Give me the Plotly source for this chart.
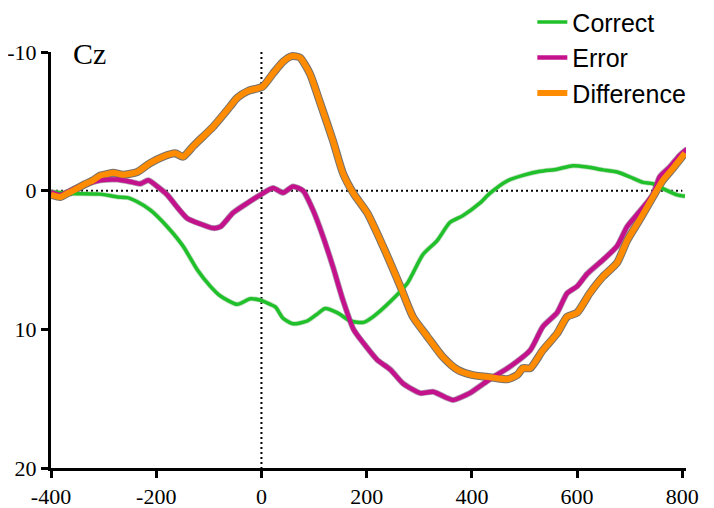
import plotly.graph_objects as go

# time (ms) / amplitude (uV), negative plotted up
correct_x = [-400, -363, -306, -274, -255, -236, -211, -179, -149, -122, -97, -78, -46, -21, -2,
             17, 27, 41, 60, 87, 106, 121, 144, 169, 194, 212, 245, 277, 307, 334, 358, 383,
             415, 434, 467, 497, 530, 562, 592, 619, 649, 676, 700, 725, 744, 763, 790, 805]
correct_y = [0.1, 0.2, 0.25, 0.45, 0.5, 0.8, 1.4, 2.6, 4.0, 5.7, 6.9, 7.6, 8.2, 7.8, 7.9,
             8.2, 8.4, 9.2, 9.6, 9.4, 8.9, 8.5, 8.8, 9.4, 9.5, 9.1, 8.0, 6.7, 4.6, 3.6, 2.3, 1.8,
             0.9, 0.2, -0.7, -1.1, -1.4, -1.55, -1.8, -1.7, -1.5, -1.35, -1.0, -0.6, -0.5, -0.15, 0.3, 0.4]

error_x = [-400, -382, -363, -339, -306, -274, -244, -230, -215, -198, -179, -160, -141, -116, -92,
           -78, -54, -27, -2, 22, 41, 60, 79, 98, 117, 136, 155, 175, 194, 220, 245, 269, 302,
           326, 353, 364, 396, 434, 472, 511, 535, 562, 581, 600, 619, 649, 676, 695, 719, 744,
           757, 776, 795, 809]
error_y = [0.1, 0.3, 0.0, -0.4, -0.75, -0.8, -0.6, -0.5, -0.75, -0.3, 0.3, 1.2, 2.0, 2.4, 2.7,
           2.6, 1.6, 0.9, 0.3, -0.2, 0.15, -0.3, 0.0, 1.4, 3.3, 5.5, 7.9, 10.0, 11.0, 12.2, 12.9, 13.9, 14.6,
           14.5, 14.95, 15.1, 14.6, 13.6, 12.7, 11.5, 9.8, 8.8, 7.4, 6.9, 6.0, 5.0, 4.0, 2.6, 1.5, 0.3,
           -1.0, -1.7, -2.55, -3.0]

diff_x = [-400, -382, -369, -363, -339, -320, -306, -293, -282, -263, -236, -217, -211, -187, -164,
          -149, -130, -122, -92, -60, -46, -25, 2, 22, 41, 58, 73, 92, 111, 136, 155, 175, 201,
          231, 264, 288, 315, 345, 372, 402, 434, 467, 486, 497, 511, 535, 562, 581, 600, 624,
          649, 676, 695, 719, 744, 763, 782, 805]
diff_y = [0.3, 0.45, 0.2, 0.1, -0.4, -0.75, -1.1, -1.2, -1.3, -1.15, -1.35, -1.85, -2.0, -2.45, -2.7,
          -2.45, -3.2, -3.5, -4.6, -6.05, -6.7, -7.2, -7.5, -8.45, -9.3, -9.7, -9.6, -8.45, -6.4, -3.6, -1.25, 0.2, 1.6,
          4.0, 6.9, 9.1, 10.5, 12.0, 12.9, 13.3, 13.45, 13.6, 13.3, 12.8, 12.8, 11.5, 10.3, 9.1, 8.8, 7.4,
          6.2, 5.2, 3.6, 2.1, 0.45, -0.75, -1.6, -2.7]

x_ticks = [-400, -200, 0, 200, 400, 600, 800]
x_labels = ["-400", "-200", "0", "200", "400", "600", "800"]
y_ticks = [-10, 0, 10, 20]
y_labels = ["-10", "0", "10", "20"]

GREEN = "#1fc02a"
MAGENTA = "#c4128c"
ORANGE = "#ff8c00"
SERIF = "Liberation Serif, Times New Roman, serif"
SANS = "Liberation Sans, Arial, sans-serif"

fig = go.Figure()

# grey halo under each curve
for xs, ys, w, c in [
    (correct_x, correct_y, 5, "rgba(150,200,150,0.6)"),
    (error_x, error_y, 6, "rgba(140,110,140,0.7)"),
    (diff_x, diff_y, 8, "#77706a"),
]:
    fig.add_trace(go.Scatter(x=xs, y=ys, mode="lines", showlegend=False, hoverinfo="skip",
                             line={"color": c, "width": w, "shape": "spline", "smoothing": 0.6}))

fig.add_trace(go.Scatter(x=correct_x, y=correct_y, mode="lines", name="Correct",
                         line={"color": GREEN, "width": 3.5, "shape": "spline", "smoothing": 0.6}))
fig.add_trace(go.Scatter(x=error_x, y=error_y, mode="lines", name="Error",
                         line={"color": MAGENTA, "width": 4.5, "shape": "spline", "smoothing": 0.6}))
fig.add_trace(go.Scatter(x=diff_x, y=diff_y, mode="lines", name="Difference",
                         line={"color": ORANGE, "width": 6, "shape": "spline", "smoothing": 0.6}))

# dotted zero lines
fig.add_shape(type="line", x0=-400, x1=800, y0=0, y1=0, layer="below",
              line={"color": "black", "width": 2, "dash": "2px,3px"})
fig.add_shape(type="line", x0=0, x1=0, y0=-10, y1=20, layer="below",
              line={"color": "black", "width": 2, "dash": "2px,3px"})

fig.add_annotation(text="Cz", x=-362, y=-9.9, xanchor="left", yanchor="middle", showarrow=False,
                   font={"family": SERIF, "size": 30, "color": "black"})

axis_common = dict(
    showgrid=False, zeroline=False, showline=True, linecolor="black", linewidth=3,
    ticks="outside", ticklen=7, tickwidth=3, tickcolor="black", automargin=False,
    tickfont={"family": SERIF, "size": 22, "color": "black"},
)

# page body adds an 8px offset, margins below account for it
fig.update_layout(
    width=714, height=508,
    margin={"l": 43, "r": 36, "t": 44, "b": 48, "autoexpand": False},
    paper_bgcolor="white", plot_bgcolor="white",
    xaxis=dict(range=[-400, 807], tickvals=x_ticks, ticktext=x_labels, **axis_common),
    yaxis=dict(range=[20, -10], tickvals=y_ticks, ticktext=y_labels, ticklabelstandoff=0,
               **axis_common),
    legend=dict(x=0.758, y=1.127, xanchor="left", yanchor="top", bgcolor="rgba(0,0,0,0)",
                font={"family": SANS, "size": 25, "color": "black"}, tracegroupgap=0),
    showlegend=True,
)

fig.write_html("out.html")
